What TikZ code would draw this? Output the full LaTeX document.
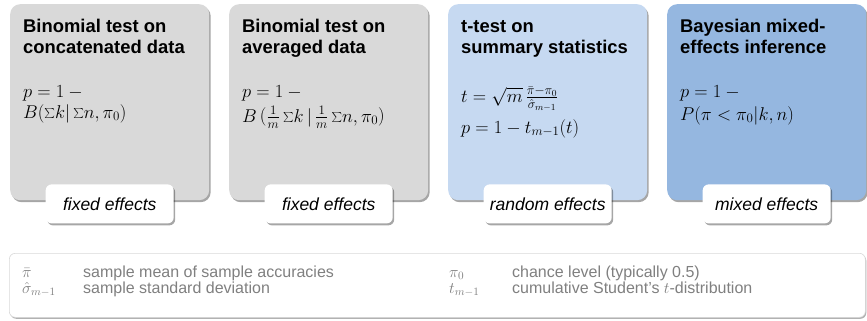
\RequirePackage{fix-cm}
\documentclass[tikz,border=0pt]{standalone}
\usepackage{fontspec}
\setmainfont{Liberation Sans}
\usetikzlibrary{shadows,calc}
\definecolor{boxgray}{HTML}{D9D9D9}
\definecolor{boxlblue}{HTML}{C6D9F1}
\definecolor{boxblue}{HTML}{95B7E0}
\definecolor{leggray}{HTML}{808080}
\tikzset{
  card/.style={rounded corners=10pt, minimum width=199pt, minimum height=196pt,
    anchor=north west, inner sep=0pt,
    drop shadow={shadow xshift=1.5pt, shadow yshift=-2pt, fill=black, opacity=0.35}},
  tag/.style={rounded corners=6pt, fill=white, minimum width=128pt, minimum height=39pt,
    inner sep=0pt, font=\fontsize{17.5}{20}\selectfont\itshape,
    drop shadow={shadow xshift=1.5pt, shadow yshift=-2pt, fill=black, opacity=0.35}},
  ttl/.style={anchor=base west, inner sep=0pt, font=\fontsize{18.4}{21}\selectfont\bfseries},
  fml/.style={anchor=base west, inner sep=0pt, font=\fontsize{18.5}{21}\selectfont},
  legbox/.style={rounded corners=6pt, fill=white, draw=black!15, line width=0.6pt,
    anchor=north west, minimum width=856pt, minimum height=64pt, inner sep=0pt,
    drop shadow={shadow xshift=1pt, shadow yshift=-1.5pt, fill=black, opacity=0.3}},
  leg/.style={anchor=base west, inner sep=0pt, text=leggray, font=\fontsize{16}{18}\selectfont}
}
\begin{document}
\begin{tikzpicture}[x=1pt,y=-1pt]
\useasboundingbox (0,0) rectangle (867,321);
% cards
\node[card, fill=boxgray] (c1) at (10,4) {};
\node[card, fill=boxgray] (c2) at (229,4) {};
\node[card, fill=boxlblue] (c3) at (448,4) {};
\node[card, fill=boxblue] (c4) at (667,4) {};
% titles
\node[ttl] (t1a) at (23,33) {Binomial test on};
\node[ttl] (t1b) at (23,54) {concatenated data};
\node[ttl] (t2a) at (242,33) {Binomial test on};
\node[ttl] (t2b) at (242,54) {averaged data};
\node[ttl] (t3a) at (461,33) {t-test on};
\node[ttl] (t3b) at (461,54) {summary statistics};
\node[ttl] (t4a) at (680,33) {Bayesian mixed-};
\node[ttl] (t4b) at (680,54) {effects inference};
% formulas
\node[fml] (f1a) at (23,97) {$p = 1 - {}$};
\node[fml] (f1b) at (23,118) {$B(\textstyle\sum\! k|\sum\! n,\pi_0)$};
\node[fml] (f2a) at (242,97) {$p = 1 - {}$};
\node[fml] (f2b) at (242,122) {$B\,\Bigl(\frac{1}{m}\textstyle\sum\! k\,|\,\frac{1}{m}\sum\! n,\pi_0\Bigr)$};
\node[fml] (f3a) at (461,102) {$t = \sqrt{m}\,\frac{\bar{\pi}-\pi_0}{\hat{\sigma}_{m-1}}$};
\node[fml] (f3b) at (461,133) {$p = 1 - t_{m-1}(t)$};
\node[fml] (f4a) at (680,97) {$p = 1 - {}$};
\node[fml] (f4b) at (680,120) {$P(\pi < \pi_0|k,n)$};
% tags
\node[tag] (g1) at ($(c1.south)+(0,3.5)$) {fixed effects};
\node[tag] (g2) at ($(c2.south)+(0,3.5)$) {fixed effects};
\node[tag] (g3) at ($(c3.south)+(0,3.5)$) {random effects};
\node[tag] (g4) at ($(c4.south)+(0,3.5)$) {mixed effects};
% legend
\node[legbox] (lg) at (9,253) {};
\node[leg] (s1) at (22,277) {$\bar{\pi}$};
\node[leg] (d1) at (83,277) {sample mean of sample accuracies};
\node[leg] (s2) at (22,293) {$\hat{\sigma}_{m-1}$};
\node[leg] (d2) at (83,293) {sample standard deviation};
\node[leg] (s3) at (449,277) {$\pi_0$};
\node[leg] (d3) at (512,277) {chance level (typically 0.5)};
\node[leg] (s4) at (449,293) {$t_{m-1}$};
\node[leg] (d4) at (512,293) {cumulative Student’s $t$-distribution};
\end{tikzpicture}
\end{document}
